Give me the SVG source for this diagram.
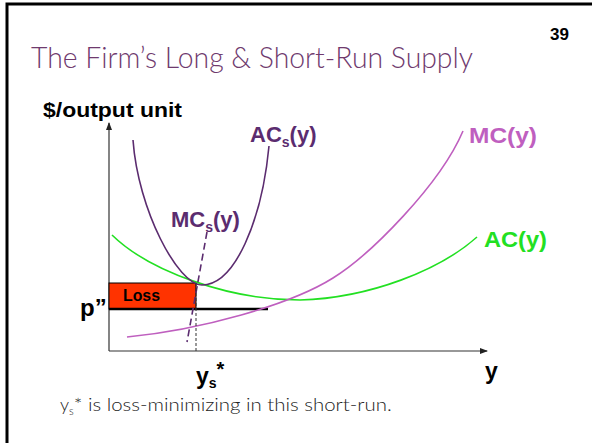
<svg xmlns="http://www.w3.org/2000/svg" width="592" height="443" viewBox="0 0 592 443">
  <style>
    .lbl { font-family: "Liberation Sans", Arial, sans-serif; font-weight: bold; }
    .plain { font-family: "Liberation Sans", Arial, sans-serif; }
    .light { font-family: Lato, "Liberation Sans", Arial, sans-serif; font-weight: 300; }
    .axis { stroke: #333; stroke-width: 1.2; fill: none; }
    .curve { fill: none; stroke-width: 1.6; }
  </style>
  <defs>
    <marker id="arrow" markerWidth="8" markerHeight="6" refX="7" refY="3" orient="auto" markerUnits="userSpaceOnUse">
      <path d="M0,0 L8,3 L0,6 Z" fill="#222"/>
    </marker>
  </defs>

  <rect width="592" height="443" fill="#fff"/>
  <!-- slide frame -->
  <rect x="7" y="4" width="600" height="460" fill="none" stroke="#000" stroke-width="3"/>

  <!-- heading and page number -->
  <text x="31" y="68" class="light" font-size="30" fill="#6F3A6E" textLength="442" lengthAdjust="spacingAndGlyphs">The Firm’s Long &amp; Short-Run Supply</text>
  <text x="550" y="40" class="lbl" font-size="17" fill="#000">39</text>

  <!-- axes -->
  <g id="axes">
    <line x1="109" y1="351" x2="109" y2="123" class="axis" marker-end="url(#arrow)"/>
    <line x1="109" y1="351" x2="487" y2="351" class="axis" marker-end="url(#arrow)"/>
    <text x="43" y="117" class="lbl" font-size="20" fill="#000" textLength="139" lengthAdjust="spacingAndGlyphs">$/output unit</text>
    <text x="485" y="379" class="lbl" font-size="23" fill="#000">y</text>
  </g>

  <!-- loss region -->
  <g id="loss">
    <rect x="109" y="283" width="87" height="26" fill="#FF3300" stroke="#000" stroke-width="1"/>
    <text x="123" y="301" class="lbl" font-size="17" fill="#000" textLength="37" lengthAdjust="spacingAndGlyphs">Loss</text>
  </g>

  <!-- price level p" -->
  <g id="price">
    <line x1="109" y1="309" x2="268" y2="309" stroke="#000" stroke-width="2.5"/>
    <text x="80" y="316" class="lbl" font-size="24" fill="#000">p”</text>
  </g>

  <!-- curves -->
  <g id="connectors">
    <!-- long-run average cost -->
    <path id="AC" class="curve" stroke="#22E022" d="M112,235 C150,272 230,300 300,300 C370,298 440,270 477,237"/>
    <!-- long-run marginal cost -->
    <path id="MC" class="curve" stroke="#BF5FBF" d="M127,337 C200,330 290,305 333,278 C370,255 440,185 463,131"/>
    <!-- short-run average cost -->
    <path id="ACs" class="curve" stroke="#5B2C6F" d="M133,140 C138,210 178,285 202,285 C235,285 262,220 269,146"/>
    <!-- short-run marginal cost -->
    <line id="MCs" x1="207" y1="232" x2="187" y2="342" stroke="#5B2C6F" stroke-width="1.6" stroke-dasharray="7,4"/>
    <!-- output marker -->
    <line x1="196" y1="283" x2="196" y2="351" stroke="#333" stroke-width="1" stroke-dasharray="3,2"/>
  </g>

  <!-- curve labels -->
  <g id="label-ACs">
    <text x="250" y="142" class="lbl" font-size="22" fill="#5B2C6F">AC<tspan font-size="14" dy="5">s</tspan><tspan dy="-5">(y)</tspan></text>
  </g>
  <g id="label-MCs">
    <text x="171" y="227" class="lbl" font-size="22" fill="#5B2C6F">MC<tspan font-size="14" dy="5">s</tspan><tspan dy="-5">(y)</tspan></text>
  </g>
  <g id="label-MC">
    <text x="469" y="143" class="lbl" font-size="22" fill="#BF5FBF" textLength="68" lengthAdjust="spacingAndGlyphs">MC(y)</text>
  </g>
  <g id="label-AC">
    <text x="484" y="247" class="lbl" font-size="22" fill="#22E022" textLength="63" lengthAdjust="spacingAndGlyphs">AC(y)</text>
  </g>
  <g id="label-ys">
    <text x="196" y="384" class="lbl" font-size="23" fill="#000">y<tspan font-size="14" dy="4">s</tspan><tspan font-size="20" dy="-12">*</tspan></text>
  </g>

  <!-- caption -->
  <text x="60" y="411" class="light" font-size="18" fill="#222">y<tspan font-size="11" dy="4">s</tspan><tspan dy="-4" textLength="318" lengthAdjust="spacingAndGlyphs">* is loss-minimizing in this short-run.</tspan></text>
</svg>
